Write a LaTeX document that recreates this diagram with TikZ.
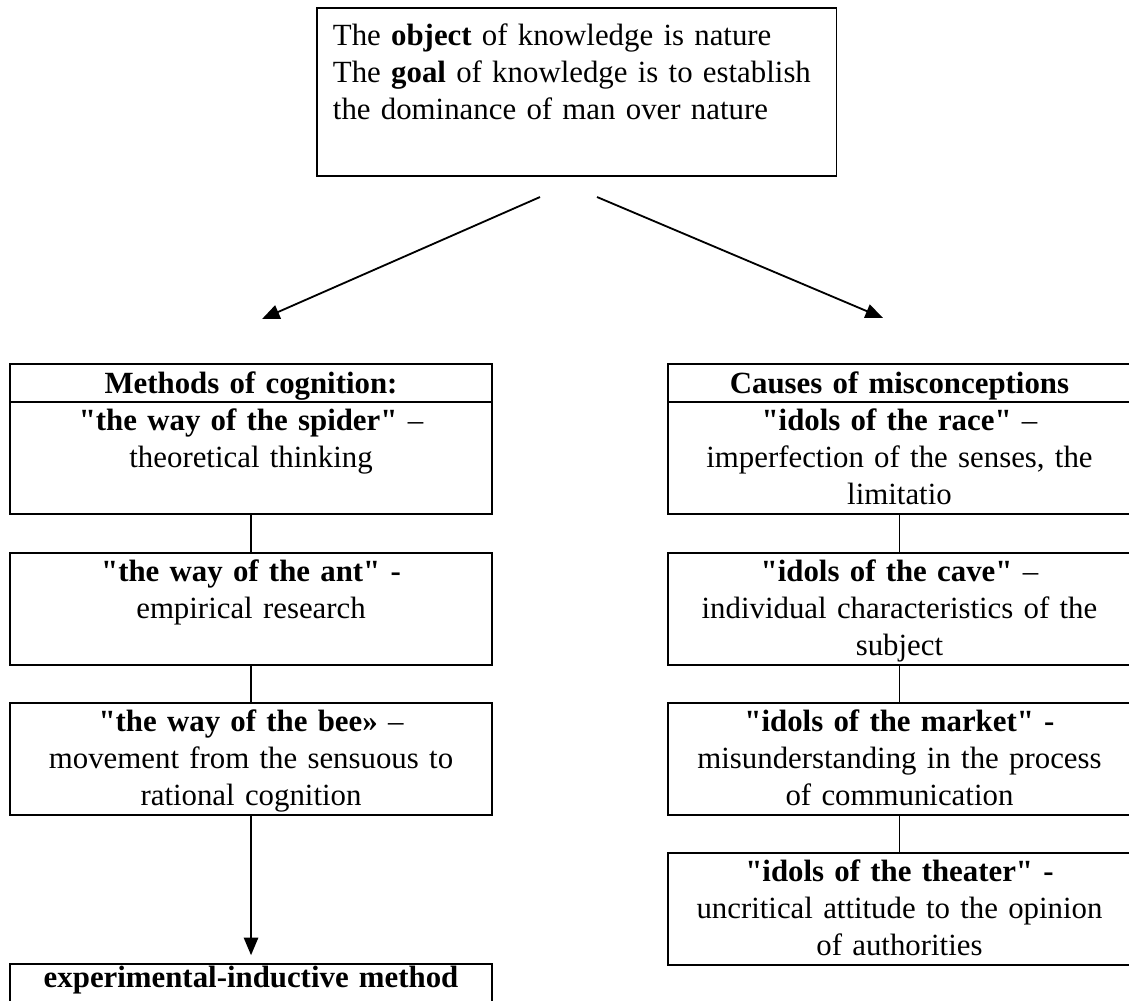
\documentclass[tikz,border=0pt]{standalone}
\usepackage{fontspec}
\setmainfont{Liberation Serif}[Ligatures=TeXOff]
\usepackage{tikz}
\usetikzlibrary{arrows.meta, positioning}
\newcommand{\boxfont}{\fontsize{13.5pt}{16.2pt}\selectfont\hyphenpenalty=10000}
\tikzset{
  block/.style={rectangle, draw=black, line width=0.8pt, align=center,
    inner xsep=0.1cm, inner ysep=0pt, text height=0.446cm, text depth=1.277cm,
    font=\boxfont},
  hdrblock/.style={block, text height=0.462cm, text depth=0.123cm},
  lcol/.style={text width=7.215cm},
  rcol/.style={text width=6.923cm},
  topblock/.style={block, align=left, text width=7.5cm, inner xsep=0.246cm,
    text height=0.585cm, text depth=2.0cm},
  arrow/.style={-{Triangle[length=0.27cm, width=0.22cm]}, line width=0.8pt},
  line/.style={line width=0.8pt}
}

\begin{document}
\begin{tikzpicture}
  \useasboundingbox (0,0) rectangle (17.369,-15.385);

  % Top box
  \node[topblock, anchor=north west] (goal) at (4.862,-0.108) {The \textbf{object} of knowledge is nature\\
    The \textbf{goal} of knowledge is to establish\\
    the dominance of man over nature};

  % Arrows down to the two columns
  \coordinate (lfrom) at (8.308,-3.031);
  \coordinate (lto) at (4.031,-4.908);
  \coordinate (rfrom) at (9.185,-3.031);
  \coordinate (rto) at (13.585,-4.892);
  \draw[arrow] (lfrom) -- (lto);
  \draw[arrow] (rfrom) -- (rto);

  % Left column
  \node[hdrblock, lcol, anchor=north] (methods) at (3.862,-5.585) {\textbf{Methods of cognition:}};
  \node[block, lcol, anchor=north] (spider) at (3.862,-6.169) {\textbf{"the way of the spider"} –\\
    theoretical thinking};
  \node[block, lcol, anchor=north] (ant) at (3.862,-8.492) {\textbf{"the way of the ant" -}\\
    empirical research};
  \node[block, lcol, anchor=north] (bee) at (3.862,-10.8) {\textbf{"the way of the bee»} –\\
    movement from the sensuous to\\ rational cognition};
  \node[hdrblock, lcol, anchor=north, text height=0.369cm, text depth=0.6cm] (method) at (3.862,-14.815) {\textbf{experimental-inductive method}};
  \draw[line] (spider) -- (ant);
  \draw[line] (ant) -- (bee);
  \draw[arrow, shorten >=0.12cm] (bee) -- (method);

  % Right column
  \node[hdrblock, rcol, anchor=north] (causes) at (13.838,-5.585) {\textbf{Causes of misconceptions}};
  \node[block, rcol, anchor=north] (race) at (13.838,-6.169) {\textbf{"idols of the race"} –\\
    imperfection of the senses, the\\ limitatio};
  \node[block, rcol, anchor=north] (cave) at (13.838,-8.492) {\textbf{"idols of the cave"} –\\
    individual characteristics of the\\ subject};
  \node[block, rcol, anchor=north] (market) at (13.838,-10.8) {\textbf{"idols of the market" -}\\
    misunderstanding in the process\\ of communication};
  \node[block, rcol, anchor=north] (theater) at (13.838,-13.108) {\textbf{"idols of the theater" -}\\
    uncritical attitude to the opinion\\ of authorities};
  \draw[line] (race) -- (cave);
  \draw[line] (cave) -- (market);
  \draw[line] (market) -- (theater);
\end{tikzpicture}
\end{document}
